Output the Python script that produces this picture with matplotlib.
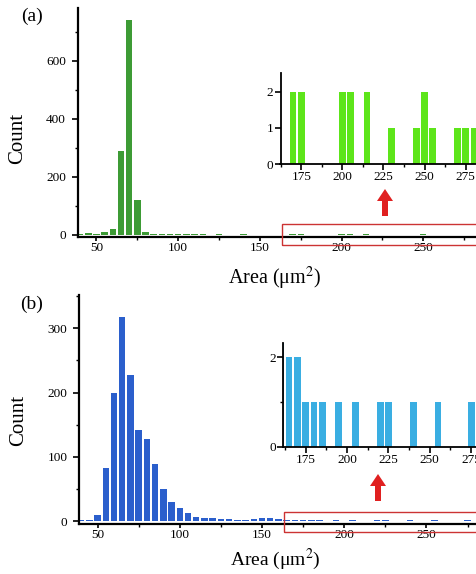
import numpy as np
import matplotlib
matplotlib.use('Agg')
from matplotlib import pyplot as plt
from matplotlib.patches import Rectangle, FancyArrow
from matplotlib.ticker import MultipleLocator

plt.rcParams['font.family'] = ['Liberation Serif', 'DejaVu Serif']
plt.rcParams['mathtext.fontset'] = 'stix'

# panel (a): bin centres and counts
bins_a = [40, 45, 50, 55, 60, 65, 70, 75, 80, 85, 90, 95, 100, 105, 110, 115,
          120, 125, 130, 135, 140, 145, 150, 155,
          170, 175, 200, 205, 215, 230, 245, 250, 255, 270, 275, 280]
count_a = [3, 8, 5, 9, 22, 290, 740, 120, 9, 3, 2, 4, 3, 4, 3, 2,
           1, 2, 1, 1, 2, 1, 1, 1,
           2, 2, 2, 2, 2, 1, 1, 2, 1, 1, 1, 1]

# panel (b)
bins_b = [40, 45, 50, 55, 60, 65, 70, 75, 80, 85, 90, 95, 100, 105, 110, 115,
          120, 125, 130, 135, 140, 145, 150, 155, 160,
          165, 170, 175, 180, 185, 195, 205, 220, 225, 240, 255, 275]
count_b = [1, 1, 10, 83, 200, 318, 228, 141, 128, 89, 50, 30, 20, 12, 7, 5,
           4, 3, 3, 2, 2, 3, 4, 4, 3,
           2, 2, 1, 1, 1, 1, 1, 1, 1, 1, 1, 1]

W, H = 476, 574
fig = plt.figure(figsize=(W / 100, H / 100), dpi=100)


def px_axes(left, top, right, bottom):
    # axes box given in pixel coordinates of the picture
    return fig.add_axes([left / W, 1 - bottom / H, (right - left) / W, (bottom - top) / H])


def style(ax, lw=1.6, size=9.5, ypad=1, xpad=1, xlen=4):
    for s in ['top', 'right']:
        ax.spines[s].set_visible(False)
    for s in ['left', 'bottom']:
        ax.spines[s].set_linewidth(lw)
    ax.tick_params(which='major', direction='out', length=4, width=1.2, labelsize=size)
    ax.tick_params(which='minor', direction='out', length=2.5, width=1.0)
    ax.tick_params(axis='y', which='major', pad=ypad)
    ax.tick_params(axis='x', which='major', pad=xpad, length=xlen)


# ---- (a) main ----
ax1 = px_axes(77.7, 8, 505, 237.3)
ax1.bar(bins_a, count_a, width=3.9, color='#3d9b35', linewidth=0)
ax1.set_xlim(38.5, 300)
ax1.set_ylim(-8, 782)
ax1.xaxis.set_major_locator(MultipleLocator(50))
ax1.xaxis.set_minor_locator(MultipleLocator(25))
ax1.yaxis.set_major_locator(MultipleLocator(200))
ax1.yaxis.set_minor_locator(MultipleLocator(100))
style(ax1, ypad=4.5, xpad=0.5, xlen=3)
ax1.set_ylabel('Count', fontsize=15)
ax1.yaxis.set_label_coords((27 - 77.7) / (505 - 77.7), (237.3 - 138) / 229.3)
ax1.set_xlabel('Area (μm$^2$)', fontsize=14.5)
ax1.xaxis.set_label_coords((275 - 77.7) / (505 - 77.7), -0.12)

# ---- (a) inset ----
ins1 = px_axes(280.5, 73.5, 506.8, 164.3)
ins1.bar(bins_a, count_a, width=4.1, color='#5de51a', linewidth=0)
ins1.set_xlim(162.4, 300)
ins1.set_ylim(0, 2.5)
ins1.xaxis.set_major_locator(MultipleLocator(25))
ins1.xaxis.set_minor_locator(MultipleLocator(12.5))
ins1.yaxis.set_major_locator(MultipleLocator(1))
style(ins1, lw=1.3, size=9.5)

# ---- (b) main ----
ax2 = px_axes(79.3, 295, 508.7, 523.6)
ax2.bar(bins_b, count_b, width=3.9, color='#2b5fcc', linewidth=0)
ax2.set_xlim(38.9, 300)
ax2.set_ylim(-4, 352)
ax2.xaxis.set_major_locator(MultipleLocator(50))
ax2.xaxis.set_minor_locator(MultipleLocator(25))
ax2.yaxis.set_major_locator(MultipleLocator(100))
ax2.yaxis.set_minor_locator(MultipleLocator(50))
style(ax2, ypad=4.5, xpad=1, xlen=3)
ax2.set_ylabel('Count', fontsize=15)
ax2.yaxis.set_label_coords((28 - 79.3) / (508.7 - 79.3), (523.6 - 420) / 228.6)
ax2.set_xlabel('Area (μm$^2$)', fontsize=14)
ax2.xaxis.set_label_coords((275 - 79.3) / (508.7 - 79.3), -0.1)

# ---- (b) inset ----
ins2 = px_axes(283.3, 343, 512.5, 446.7)
ins2.bar(bins_b, count_b, width=4.1, color='#3aaee2', linewidth=0)
ins2.set_xlim(161.5, 300)
ins2.set_ylim(0, 2.32)
ins2.xaxis.set_major_locator(MultipleLocator(25))
ins2.xaxis.set_minor_locator(MultipleLocator(12.5))
ins2.yaxis.set_major_locator(MultipleLocator(2))
ins2.yaxis.set_minor_locator(MultipleLocator(1))
style(ins2, lw=1.3, size=9.5)

# panel letters
fig.text(32 / W, 1 - 16 / H, '(a)', fontsize=14, ha='center', va='center')
fig.text(32 / W, 1 - 304 / H, '(b)', fontsize=14, ha='center', va='center')

# red boxes marking the zoomed region
for top, bot, left in [(224, 245, 281.7), (511.7, 531.7, 284.3)]:
    fig.patches.append(Rectangle((left / W, 1 - bot / H), (480 - left) / W, (bot - top) / H,
                                 transform=fig.transFigure, fill=False,
                                 edgecolor='#cc3333', linewidth=1.0))

# red arrows pointing up to the insets
for xc, y0, y1 in [(385, 216, 189), (378, 501, 474)]:
    fig.patches.append(FancyArrow(xc / W, 1 - y0 / H, 0, (y0 - y1) / H,
                                  width=6 / W, head_width=16 / W, head_length=12 / H,
                                  length_includes_head=True, transform=fig.transFigure,
                                  color='#e02020', linewidth=0))

fig.savefig('out.png', dpi=100)
